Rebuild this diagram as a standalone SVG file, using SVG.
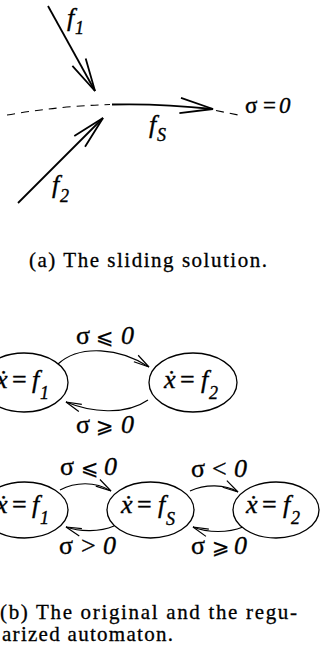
<svg xmlns="http://www.w3.org/2000/svg" width="320" height="650" viewBox="0 0 320 650">
<style>
  .bg{fill:#fff}
  .ln{fill:none;stroke:#000;stroke-width:1.8}
  .dash{fill:none;stroke:#000;stroke-width:1.1;stroke-dasharray:8 6}
  .edge{fill:none;stroke:#000;stroke-width:1.2}
  .node{fill:#fff;stroke:#000;stroke-width:1.3}
  .m{font-family:'Liberation Serif','Times New Roman','DejaVu Serif',serif;font-size:26px;fill:#000;stroke:#000;stroke-width:0.35}
  .it{font-style:italic}
  .sub{font-size:18px;font-style:italic}
  .rel{font-family:'DejaVu Sans','DejaVu Serif',sans-serif;font-size:21px;stroke-width:0.2}
  .cap{font-family:'Liberation Serif','Times New Roman','DejaVu Serif',serif;font-size:21px;fill:#000;stroke:#000;stroke-width:0.3}
</style>
<defs>
  <marker id="ahBig" markerUnits="userSpaceOnUse" markerWidth="40" markerHeight="20" viewBox="-36 -10 40 20" refX="0" refY="0" orient="auto" overflow="visible">
    <path d="M-33 -7.6 L0 0 L-33 7.6" fill="none" stroke="#000" stroke-width="1.8"/>
  </marker>
  <marker id="ah" markerUnits="userSpaceOnUse" markerWidth="20" markerHeight="12" viewBox="-18 -6 20 12" refX="0" refY="0" orient="auto" overflow="visible">
    <path d="M-15.5 -3.9 L0 0 L-15.5 3.9" fill="none" stroke="#000" stroke-width="1.2"/>
  </marker>
</defs>
<rect class="bg" x="0" y="0" width="320" height="650"/>

<!-- (a) The sliding solution -->
<g id="sliding">
  <path class="dash" d="M7 115 Q60 106 110 104.5"/>
  <path class="ln" d="M112 104.5 C150 103.5 185 106 213 109" marker-end="url(#ahBig)"/>
  <path class="dash" d="M216 110.5 L243 116"/>
  <path class="ln" d="M48 6 L95 91" marker-end="url(#ahBig)"/>
  <path class="ln" d="M18 203 L103 118" marker-end="url(#ahBig)"/>
  <text class="m it" x="67" y="26">f<tspan class="sub" x="75" y="34">1</tspan></text>
  <text class="m it" x="149" y="133">f<tspan class="sub" x="157" y="141">S</tspan></text>
  <text class="m it" x="52" y="193">f<tspan class="sub" x="60" y="202">2</tspan></text>
  <text class="m" x="245" y="113" style="font-size:23px">σ<tspan x="263">=</tspan><tspan class="it" x="279">0</tspan></text>
  <text class="cap" x="29" y="267" textLength="238" lengthAdjust="spacing">(a) The sliding solution.</text>
</g>

<!-- (b) original and regularized automata -->
<g id="edges">
  <path class="edge" d="M58 364 C80 344 120 348 149 367" marker-end="url(#ah)"/>
  <path class="edge" d="M148 400 C125 416 90 412 66 402" marker-end="url(#ah)"/>
  <path class="edge" d="M60 490 C75 482 95 481 111 491" marker-end="url(#ah)"/>
  <path class="edge" d="M114 526 C100 532 80 532 66 527" marker-end="url(#ah)"/>
  <path class="edge" d="M190 491 C205 484 225 484 238 492" marker-end="url(#ah)"/>
  <path class="edge" d="M243 527 C228 533 208 533 193 527" marker-end="url(#ah)"/>
</g>

<g id="labels">
  <text class="m" x="76" y="344">σ<tspan class="rel" x="96">⩽</tspan><tspan class="it" x="121">0</tspan></text>
  <text class="m" x="76" y="433">σ<tspan class="rel" x="96">⩾</tspan><tspan class="it" x="121">0</tspan></text>
  <text class="m" x="60" y="475">σ<tspan class="rel" x="81">⩽</tspan><tspan class="it" x="104">0</tspan></text>
  <text class="m" x="59" y="554">σ<tspan x="81">&gt;</tspan><tspan class="it" x="103">0</tspan></text>
  <text class="m" x="191" y="477">σ<tspan x="212">&lt;</tspan><tspan class="it" x="234">0</tspan></text>
  <text class="m" x="191" y="554">σ<tspan class="rel" x="212">⩾</tspan><tspan class="it" x="234">0</tspan></text>
</g>

<g id="n-a1">
  <ellipse class="node" cx="24" cy="382.5" rx="44" ry="29.5"/>
  <text class="m" y="388"><tspan class="it" x="-4">ẋ</tspan><tspan x="12">=</tspan><tspan class="it" x="32">f</tspan><tspan class="sub" x="40" y="399">1</tspan></text>
</g>
<g id="n-a2">
  <ellipse class="node" cx="193" cy="382.5" rx="44" ry="29.5"/>
  <text class="m" y="388"><tspan class="it" x="164">ẋ</tspan><tspan x="180">=</tspan><tspan class="it" x="201">f</tspan><tspan class="sub" x="209" y="399">2</tspan></text>
</g>
<g id="n-b1">
  <ellipse class="node" cx="24.5" cy="510" rx="43.5" ry="28"/>
  <text class="m" y="513"><tspan class="it" x="-4">ẋ</tspan><tspan x="12">=</tspan><tspan class="it" x="32">f</tspan><tspan class="sub" x="40" y="524">1</tspan></text>
</g>
<g id="n-bs">
  <ellipse class="node" cx="150.5" cy="510" rx="43.5" ry="28"/>
  <text class="m" y="513"><tspan class="it" x="121">ẋ</tspan><tspan x="137">=</tspan><tspan class="it" x="158">f</tspan><tspan class="sub" x="166" y="525">S</tspan></text>
</g>
<g id="n-b2">
  <ellipse class="node" cx="276" cy="510" rx="43" ry="28"/>
  <text class="m" y="513"><tspan class="it" x="246">ẋ</tspan><tspan x="262">=</tspan><tspan class="it" x="283">f</tspan><tspan class="sub" x="291" y="524">2</tspan></text>
</g>

<g id="caption-b">
  <text class="cap" x="0" y="619" textLength="297" lengthAdjust="spacing">(b) The original and the regu-</text>
  <text class="cap" x="2" y="641" textLength="171" lengthAdjust="spacing">arized automaton.</text>
</g>
</svg>
